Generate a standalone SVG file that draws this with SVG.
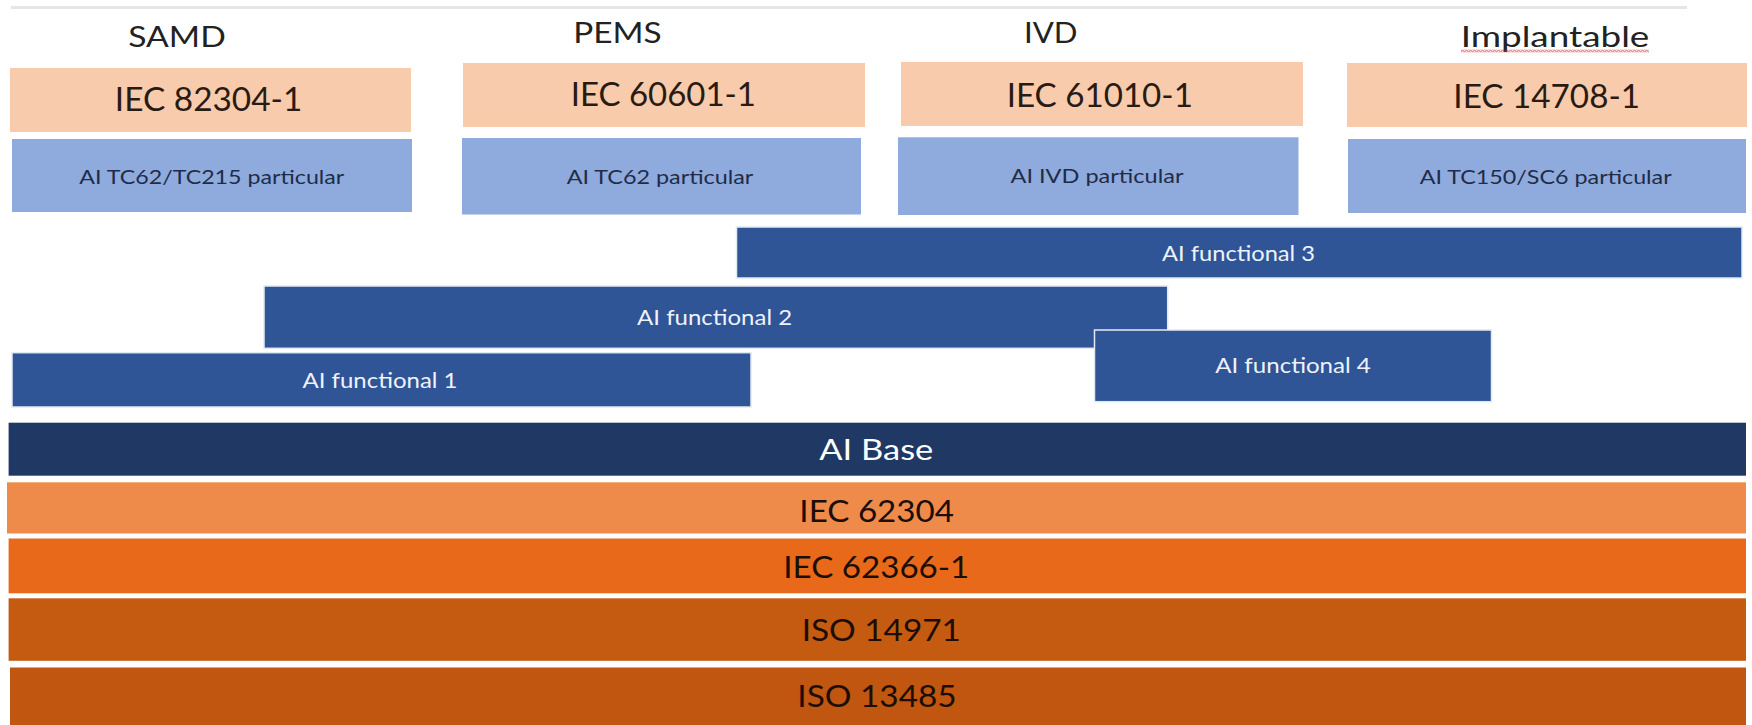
<svg xmlns="http://www.w3.org/2000/svg" width="1752" height="725" viewBox="0 0 1752 725">
<defs>
<style>
text{font-family:Lato,"Liberation Sans",Arial,sans-serif;text-anchor:middle}
.hdr{font-size:28.5px;fill:#222222}
.std{font-size:32px;fill:#2a1b12}
.par{font-size:19px;fill:#1f2c48}
.fun{font-size:20.5px;fill:#eef2fa}
.base{font-size:28px;fill:#ffffff}
.bot{font-size:30px;fill:#1c0e06}
.peach{fill:#f8cbad}
.lblue{fill:#8faadc}
.func{fill:#2f5597;stroke:#e3e9f3;stroke-width:1.5}
</style>
<pattern id="squig" x="1461" y="49.5" width="4" height="3" patternUnits="userSpaceOnUse">
<polyline points="0,2.5 1,0.8 2,0.5 3,2.2 4,2.5" fill="none" stroke="#d03030" stroke-width="0.9"/>
</pattern>
</defs>
<rect width="1752" height="725" fill="#ffffff"/>
<line x1="11" y1="7.5" x2="1687" y2="7.5" stroke="#e6e6e6" stroke-width="3"/>

<g id="col-samd">
<text class="hdr" x="177" y="46.7" textLength="97.6" lengthAdjust="spacingAndGlyphs">SAMD</text>
</g>
<g id="col-pems">
<text class="hdr" x="617.5" y="43.3" textLength="88.4" lengthAdjust="spacingAndGlyphs">PEMS</text>
</g>
<g id="col-ivd">
<text class="hdr" x="1050.8" y="42.7" textLength="53.5" lengthAdjust="spacingAndGlyphs">IVD</text>
</g>
<g id="col-implantable">
<text class="hdr" x="1555" y="46.7" textLength="188.7" lengthAdjust="spacingAndGlyphs">Implantable</text>
<rect x="1461" y="49.5" width="188" height="3" fill="url(#squig)"/>
</g>

<g id="iec82304-1">
<rect class="peach" x="10" y="68" width="401" height="64"/>
<text class="std" x="208.6" y="110.7" textLength="187.5" lengthAdjust="spacingAndGlyphs">IEC 82304-1</text>
</g>
<g id="iec60601-1">
<rect class="peach" x="463" y="63" width="402" height="64"/>
<text class="std" x="663.3" y="106" textLength="185.3" lengthAdjust="spacingAndGlyphs">IEC 60601-1</text>
</g>
<g id="iec61010-1">
<rect class="peach" x="901" y="62" width="402" height="64"/>
<text class="std" x="1099.8" y="106.7" textLength="186.2" lengthAdjust="spacingAndGlyphs">IEC 61010-1</text>
</g>
<g id="iec14708-1">
<rect class="peach" x="1347" y="63" width="400" height="64"/>
<text class="std" x="1546.7" y="107.7" textLength="186.7" lengthAdjust="spacingAndGlyphs">IEC 14708-1</text>
</g>

<g id="ai-tc62-tc215">
<rect class="lblue" x="12" y="139" width="400" height="73"/>
<text class="par" x="211.8" y="183.5" textLength="265" lengthAdjust="spacingAndGlyphs">AI TC62/TC215 particular</text>
</g>
<g id="ai-tc62">
<rect class="lblue" x="462" y="138" width="399" height="76.5"/>
<text class="par" x="660" y="184" textLength="186.7" lengthAdjust="spacingAndGlyphs">AI TC62 particular</text>
</g>
<g id="ai-ivd">
<rect class="lblue" x="898" y="137.3" width="400.5" height="77.7"/>
<text class="par" x="1097" y="183" textLength="173" lengthAdjust="spacingAndGlyphs">AI IVD particular</text>
</g>
<g id="ai-tc150-sc6">
<rect class="lblue" x="1348" y="139" width="398" height="74"/>
<text class="par" x="1545.7" y="184" textLength="252" lengthAdjust="spacingAndGlyphs">AI TC150/SC6 particular</text>
</g>

<g id="ai-functional-3">
<rect class="func" x="736.5" y="227" width="1005.5" height="51"/>
<text class="fun" x="1238.5" y="260.5" textLength="153" lengthAdjust="spacingAndGlyphs">AI functional 3</text>
</g>
<g id="ai-functional-2">
<rect class="func" x="264" y="286" width="903.7" height="62.3"/>
<text class="fun" x="714.6" y="325" textLength="155" lengthAdjust="spacingAndGlyphs">AI functional 2</text>
</g>
<g id="ai-functional-1">
<rect class="func" x="12" y="352.7" width="739" height="54.3"/>
<text class="fun" x="380" y="388" textLength="155" lengthAdjust="spacingAndGlyphs">AI functional 1</text>
</g>
<g id="ai-functional-4">
<rect class="func" x="1094.5" y="330" width="397" height="71.7"/>
<text class="fun" x="1293" y="372.7" textLength="155.7" lengthAdjust="spacingAndGlyphs">AI functional 4</text>
</g>

<g id="ai-base">
<rect x="8.6" y="422.7" width="1737.4" height="53" fill="#203864"/>
<text class="base" x="876.3" y="460" textLength="114" lengthAdjust="spacingAndGlyphs">AI Base</text>
</g>
<g id="iec62304">
<rect x="7" y="482.3" width="1739" height="51.2" fill="#ee8b4b"/>
<text class="bot" x="876.7" y="521.7" textLength="154.7" lengthAdjust="spacingAndGlyphs">IEC 62304</text>
</g>
<g id="iec62366-1">
<rect x="8.6" y="538.5" width="1737.4" height="54.8" fill="#e8691a"/>
<text class="bot" x="876.3" y="577.7" textLength="186" lengthAdjust="spacingAndGlyphs">IEC 62366-1</text>
</g>
<g id="iso14971">
<rect x="8.6" y="598.3" width="1737.4" height="62.5" fill="#c55a11"/>
<text class="bot" x="881.3" y="641" textLength="159.3" lengthAdjust="spacingAndGlyphs">ISO 14971</text>
</g>
<g id="iso13485">
<rect x="10" y="667.5" width="1736" height="57.5" fill="#c0560f"/>
<text class="bot" x="877" y="707.3" textLength="159.3" lengthAdjust="spacingAndGlyphs">ISO 13485</text>
</g>
<g id="connectors"/>
</svg>
